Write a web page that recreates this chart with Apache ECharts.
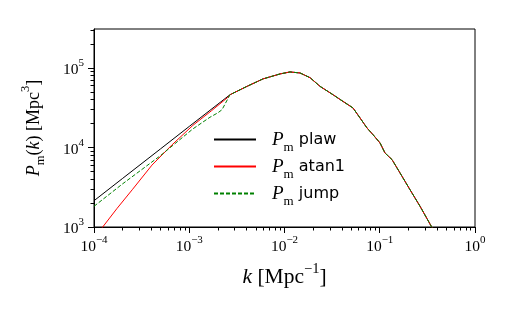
<!DOCTYPE html>
<html>
<head>
<meta charset="utf-8">
<script src="https://cdn.jsdelivr.net/npm/echarts@6/dist/echarts.min.js"></script>
<style>
  html, body { margin: 0; padding: 0; background: #fff; }
  #chart { width: 511px; height: 316px; }
</style>
</head>
<body>
<div id="chart"></div>
<script>
  // k [1/Mpc] and P_m(k) [Mpc^3]
  var plawK = [1e-4, 2e-4, 5e-4, 1e-3, 2e-3];
  var plawP = [2140, 4090, 9610, 18400, 35100];

  var atanK = [1e-4, 1.21e-4, 1.75e-4, 2.52e-4, 4.06e-4, 6.6e-4, 1.09e-3, 1.72e-3, 2.53e-3];
  var atanP = [730, 970, 1720, 2940, 6000, 10800, 18950, 29100, 42500];

  var jumpK = [1e-4, 2.01e-4, 4.93e-4, 1.09e-3, 1.65e-3, 2.0e-3, 2.21e-3];
  var jumpP = [1820, 3510, 7820, 17100, 24000, 27300, 29900];

  // shared part of the spectrum (all three curves lie on top of each other)
  var tailK = [2.68e-3, 4.04e-3, 5.94e-3, 8.97e-3, 0.01143, 0.01456, 0.01854, 0.0236, 0.0323,
               0.0411, 0.0524, 0.0621, 0.0735, 0.0849, 0.1007, 0.1135, 0.1346, 0.1633, 0.208,
               0.265, 0.351, 0.43];
  var tailP = [46100, 58700, 72800, 84100, 89100, 86500, 75500, 58700, 46100,
               38000, 31400, 23500, 17600, 14500, 11400, 8530, 7030, 4780, 2940,
               1820, 1000, 755];

  var xMajor = [1e-4, 1e-3, 1e-2, 1e-1, 1];
  var yMajor = [1e3, 1e4, 1e5];

  function minors(lo, hi, top) {
    var out = [];
    for (var d = lo; d < hi; d++) {
      for (var m = 2; m <= 9; m++) {
        var v = m * Math.pow(10, d);
        if (v <= top) out.push(v);
      }
    }
    return out;
  }
  var xMinor = minors(-4, 0, 1);
  var yMinor = minors(3, 6, 3.09e5);

  function pairs(ks, ps) {
    var out = [];
    for (var i = 0; i < ks.length; i++) out.push([ks[i], ps[i]]);
    return out;
  }

  var serif = '"Liberation Serif", "DejaVu Serif", serif';
  var sans = '"DejaVu Sans", sans-serif';

  function powLabel(v) {
    var e = Math.round(Math.log10(v));
    if (Math.abs(Math.log10(v) - e) > 1e-6) return '';
    return '{b|10}{s|' + (e < 0 ? '\u2212' + (-e) : e) + '}';
  }
  var tickRich = {
    b: { fontFamily: serif, fontSize: 15.5, color: '#000', lineHeight: 20, verticalAlign: 'bottom' },
    s: { fontFamily: serif, fontSize: 11, color: '#000', lineHeight: 20, verticalAlign: 'top' }
  };

  var names = ['plaw', 'atan1', 'jump'];

  var chart = echarts.init(document.getElementById('chart'));
  chart.setOption({
    animation: false,
    backgroundColor: '#fff',
    grid: { left: 94, top: 29, width: 381, height: 198, show: true, borderColor: '#000', borderWidth: 1 },
    legend: {
      orient: 'vertical',
      left: 213, top: 130, padding: 0,
      itemWidth: 42, itemHeight: 14, itemGap: 2.5,
      data: names,
      itemStyle: { opacity: 0 },
      formatter: function (n) { return '{p|P}{m|m}{t| ' + n + '}'; },
      textStyle: {
        padding: [0, 0, 0, 11],
        rich: {
          p: { fontFamily: serif, fontStyle: 'italic', fontSize: 19, color: '#000', lineHeight: 22 },
          m: { fontFamily: serif, fontSize: 13, color: '#000', lineHeight: 22, verticalAlign: 'bottom', padding: [0, 0, -4, 0] },
          t: { fontFamily: sans, fontSize: 16, color: '#000', lineHeight: 22 }
        }
      }
    },
    xAxis: [{
      type: 'log', logBase: 10, min: 1e-4, max: 1,
      axisLine: { show: true, lineStyle: { color: '#000', width: 1 } },
      axisTick: { show: true, length: 6, customValues: xMajor, lineStyle: { color: '#000' } },
      axisLabel: { margin: 8, customValues: xMajor, formatter: powLabel, rich: tickRich },
      splitLine: { show: false },
      name: '{i|k}{r| [Mpc}{s|\u22121}{r|]}',
      nameLocation: 'middle', nameGap: 35,
      nameTextStyle: {
        rich: {
          i: { fontFamily: serif, fontStyle: 'italic', fontSize: 21.5, color: '#000', lineHeight: 26, verticalAlign: 'bottom' },
          r: { fontFamily: serif, fontSize: 21.5, color: '#000', lineHeight: 26, verticalAlign: 'bottom' },
          s: { fontFamily: serif, fontSize: 14.5, color: '#000', lineHeight: 26, verticalAlign: 'top' }
        }
      }
    }, {
      type: 'log', logBase: 10, min: 1e-4, max: 1, position: 'bottom',
      axisLine: { show: false },
      axisTick: { show: true, length: 3.5, customValues: xMinor, lineStyle: { color: '#000' } },
      axisLabel: { show: false },
      splitLine: { show: false }
    }],
    yAxis: [{
      type: 'log', logBase: 10, min: 1e3, max: 3.09e5,
      axisLine: { show: true, lineStyle: { color: '#000', width: 1 } },
      axisTick: { show: true, length: 6, customValues: yMajor, lineStyle: { color: '#000' } },
      axisLabel: { margin: 10, customValues: yMajor, formatter: powLabel, rich: tickRich },
      splitLine: { show: false },
      name: '{i|P}{m|m}{r|(}{i|k}{r|) [Mpc}{s|3}{r|]}',
      nameLocation: 'middle', nameRotate: 90, nameGap: 51,
      nameTextStyle: {
        rich: {
          i: { fontFamily: serif, fontStyle: 'italic', fontSize: 18, color: '#000', lineHeight: 24, verticalAlign: 'bottom' },
          r: { fontFamily: serif, fontSize: 18, color: '#000', lineHeight: 24, verticalAlign: 'bottom' },
          m: { fontFamily: serif, fontSize: 12.5, color: '#000', lineHeight: 24, verticalAlign: 'bottom', padding: [0, 0, -4, 0] },
          s: { fontFamily: serif, fontSize: 12.5, color: '#000', lineHeight: 24, verticalAlign: 'top' }
        }
      }
    }, {
      type: 'log', logBase: 10, min: 1e3, max: 3.09e5, position: 'left',
      axisLine: { show: false },
      axisTick: { show: true, length: 3.5, customValues: yMinor, lineStyle: { color: '#000' } },
      axisLabel: { show: false },
      splitLine: { show: false }
    }],
    series: [{
      name: 'plaw', type: 'line', symbol: 'none', clip: true,
      data: pairs(plawK.concat(tailK), plawP.concat(tailP)),
      lineStyle: { color: '#000', width: 1 }, itemStyle: { color: '#000' }
    }, {
      name: 'atan1', type: 'line', symbol: 'none', clip: true,
      data: pairs(atanK.concat(tailK), atanP.concat(tailP)),
      lineStyle: { color: '#ff0000', width: 1 }, itemStyle: { color: '#ff0000' }
    }, {
      name: 'jump', type: 'line', symbol: 'none', clip: true,
      data: pairs(jumpK.concat(tailK), jumpP.concat(tailP)),
      lineStyle: { color: '#008000', width: 1, type: [4, 2] }, itemStyle: { color: '#008000' }
    }]
  });
</script>
</body>
</html>
